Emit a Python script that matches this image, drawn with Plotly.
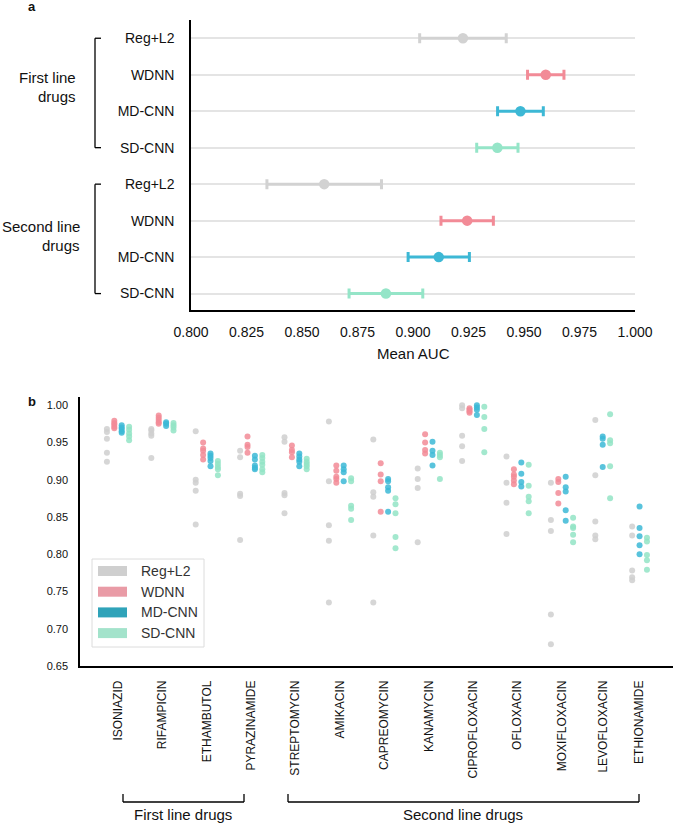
import plotly.graph_objects as go

W, H = 675, 825


def px(x):
    return x / W


def py(y):
    return 1 - y / H


# ---------------- Panel a data ----------------
models = ["Reg+L2", "WDNN", "MD-CNN", "SD-CNN"]
first_line_mean = [0.9225, 0.9598, 0.9484, 0.9380]
first_line_err = [0.0195, 0.0082, 0.0103, 0.0093]
second_line_mean = [0.8600, 0.9244, 0.9116, 0.8878]
second_line_err = [0.0258, 0.0118, 0.0138, 0.0166]

# ---------------- Panel b data ----------------
drugs = ["ISONIAZID", "RIFAMPICIN", "ETHAMBUTOL", "PYRAZINAMIDE", "STREPTOMYCIN",
         "AMIKACIN", "CAPREOMYCIN", "KANAMYCIN", "CIPROFLOXACIN", "OFLOXACIN",
         "MOXIFLOXACIN", "LEVOFLOXACIN", "ETHIONAMIDE"]

reg_l2_auc = [
    [0.968, 0.964, 0.955, 0.936, 0.924],
    [0.968, 0.966, 0.962, 0.959, 0.929],
    [0.965, 0.900, 0.896, 0.885, 0.840],
    [0.939, 0.930, 0.881, 0.878, 0.819],
    [0.957, 0.951, 0.882, 0.879, 0.855],
    [0.978, 0.898, 0.839, 0.818, 0.735],
    [0.954, 0.883, 0.877, 0.825, 0.735],
    [0.915, 0.901, 0.889, 0.816],
    [1.000, 0.996, 0.959, 0.945, 0.925],
    [0.931, 0.896, 0.869, 0.827],
    [0.896, 0.846, 0.831, 0.719, 0.679],
    [0.980, 0.906, 0.844, 0.825, 0.820],
    [0.837, 0.825, 0.778, 0.769, 0.765],
]
wdnn_auc = [
    [0.979, 0.976, 0.974, 0.971, 0.969],
    [0.986, 0.983, 0.980, 0.977, 0.975],
    [0.950, 0.942, 0.939, 0.933, 0.927],
    [0.958, 0.947, 0.944, 0.936],
    [0.946, 0.940, 0.937, 0.930],
    [0.919, 0.912, 0.904, 0.901, 0.896],
    [0.922, 0.907, 0.898, 0.857],
    [0.961, 0.950, 0.940, 0.935],
    [0.996, 0.994, 0.992, 0.990],
    [0.914, 0.907, 0.904, 0.899, 0.894],
    [0.901, 0.897, 0.882, 0.868],
    [],
    [],
]
md_cnn_auc = [
    [0.973, 0.970, 0.968, 0.965, 0.963],
    [0.977, 0.975, 0.972],
    [0.935, 0.932, 0.929, 0.925, 0.918],
    [0.932, 0.927, 0.919, 0.916, 0.914],
    [0.935, 0.931, 0.927, 0.924, 0.918],
    [0.919, 0.914, 0.910, 0.898],
    [0.901, 0.898, 0.890, 0.885, 0.857],
    [0.951, 0.939, 0.933, 0.919],
    [1.000, 0.997, 0.994, 0.987],
    [0.923, 0.908, 0.897, 0.891],
    [0.904, 0.890, 0.884, 0.859, 0.845],
    [0.958, 0.955, 0.947, 0.917],
    [0.864, 0.835, 0.824, 0.812, 0.800],
]
sd_cnn_auc = [
    [0.971, 0.967, 0.962, 0.958, 0.953],
    [0.976, 0.973, 0.970, 0.966],
    [0.925, 0.921, 0.917, 0.914, 0.906],
    [0.933, 0.929, 0.924, 0.920, 0.914, 0.910],
    [0.928, 0.924, 0.921, 0.918, 0.914],
    [0.902, 0.898, 0.865, 0.861, 0.846],
    [0.875, 0.867, 0.855, 0.823, 0.808],
    [0.936, 0.933, 0.930, 0.901],
    [0.998, 0.984, 0.968, 0.937],
    [0.920, 0.892, 0.877, 0.871, 0.855],
    [0.849, 0.837, 0.835, 0.826, 0.816],
    [0.988, 0.953, 0.949, 0.918, 0.875],
    [0.822, 0.817, 0.799, 0.792, 0.779],
]
y_ticks_b = [0.65, 0.70, 0.75, 0.80, 0.85, 0.90, 0.95, 1.00]
x_ticks_a = [0.800, 0.825, 0.850, 0.875, 0.900, 0.925, 0.950, 0.975, 1.000]

# ---------------- styles / layout helpers ----------------
FONT = "Liberation Sans, Arial, Helvetica, sans-serif"
colors_a = ["#d2d2d2", "#f28b97", "#3db8d5", "#95e5c8"]
colors_b = ["#cfcfcf", "#f28b97", "#3cb9d6", "#93e4c6"]
legend_colors = ["#cfcfcf", "#e99ba6", "#2fa3b9", "#a3e3cb"]
dodge = [-0.25, -0.0833, 0.0833, 0.25]
# slot of each drug on the category axis (last group is set slightly closer in the original)
drug_slot = list(range(12)) + [11.83]

fig = go.Figure()

# ---------------- Panel a ----------------
for i, m in enumerate(models):
    fig.add_trace(go.Scatter(
        x=[first_line_mean[i], second_line_mean[i]],
        y=[i, i + 4],
        mode="markers",
        marker=dict(size=10.5, color=colors_a[i]),
        error_x=dict(type="data", array=[first_line_err[i], second_line_err[i]],
                     color=colors_a[i], thickness=3, width=5),
        showlegend=False, xaxis="x", yaxis="y", name=m,
    ))

# ---------------- Panel b ----------------
all_auc = [reg_l2_auc, wdnn_auc, md_cnn_auc, sd_cnn_auc]
tickpos = []
for d in range(len(drugs)):
    present = [k for k in range(4) if len(all_auc[k][d]) > 0]
    offs = [dodge[r] for r in range(len(present))]
    tickpos.append(drug_slot[d] + sum(offs) / len(offs))

for k, m in enumerate(models):
    xs, ys = [], []
    for d in range(len(drugs)):
        vals = all_auc[k][d]
        if not vals:
            continue
        present = [kk for kk in range(4) if len(all_auc[kk][d]) > 0]
        rank = present.index(k)
        xs += [drug_slot[d] + dodge[rank]] * len(vals)
        ys += vals
    fig.add_trace(go.Scatter(
        x=xs, y=ys, mode="markers",
        marker=dict(size=6, color=colors_b[k], opacity=0.85),
        showlegend=False, xaxis="x2", yaxis="y2", name=m,
    ))

shapes = []
annotations = []

# Panel a brackets
for (r0, r1) in [(0, 3), (4, 7)]:
    shapes.append(dict(type="line", xref="paper", yref="y", x0=px(95), x1=px(95), y0=r0, y1=r1,
                       line=dict(color="black", width=1.3)))
    for r in (r0, r1):
        shapes.append(dict(type="line", xref="paper", yref="y", x0=px(95), x1=px(101), y0=r, y1=r,
                           line=dict(color="black", width=1.3)))

for txt, xr, yy in [("First line", 78, 77), ("drugs", 78, 97),
                    ("Second line", 82, 226), ("drugs", 82, 245)]:
    annotations.append(dict(text=txt, x=px(xr), y=py(yy), xref="paper", yref="paper",
                            xanchor="right", yanchor="middle", showarrow=False,
                            font=dict(size=15, color="#111", family=FONT)))

annotations.append(dict(text="Mean AUC", x=px(413), y=py(353), xref="paper", yref="paper",
                        xanchor="center", yanchor="middle", showarrow=False,
                        font=dict(size=15, color="#111", family=FONT)))
annotations.append(dict(text="<b>a</b>", x=px(32), y=py(6), xref="paper", yref="paper",
                        xanchor="center", yanchor="middle", showarrow=False,
                        font=dict(size=13, color="#111", family=FONT)))
annotations.append(dict(text="<b>b</b>", x=px(32), y=py(401), xref="paper", yref="paper",
                        xanchor="center", yanchor="middle", showarrow=False,
                        font=dict(size=13, color="#111", family=FONT)))

# Panel b bottom brackets
for (x0, x1, txt, xc) in [(123, 244, "First line drugs", 183), (288, 639, "Second line drugs", 463)]:
    shapes.append(dict(type="line", xref="paper", yref="paper", x0=px(x0), x1=px(x1),
                       y0=py(802), y1=py(802), line=dict(color="black", width=1.3)))
    for xx in (x0, x1):
        shapes.append(dict(type="line", xref="paper", yref="paper", x0=px(xx), x1=px(xx),
                           y0=py(794), y1=py(802), line=dict(color="black", width=1.3)))
    annotations.append(dict(text=txt, x=px(xc), y=py(814), xref="paper", yref="paper",
                            xanchor="center", yanchor="middle", showarrow=False,
                            font=dict(size=15, color="#111", family=FONT)))

# Panel b legend (manual)
shapes.append(dict(type="rect", xref="paper", yref="paper", x0=px(92), x1=px(204),
                   y0=py(559), y1=py(647), line=dict(color="#dcdcdc", width=1),
                   fillcolor="white", layer="above"))
for i, m in enumerate(models):
    yc = 571 + i * 20.7
    shapes.append(dict(type="rect", xref="paper", yref="paper", x0=px(98), x1=px(127),
                       y0=py(yc - 5), y1=py(yc + 5), line=dict(width=0),
                       fillcolor=legend_colors[i], layer="above"))
    annotations.append(dict(text=m, x=px(139), y=py(yc), xref="paper", yref="paper",
                            xanchor="left", yanchor="middle", showarrow=False,
                            font=dict(size=14, color="#333", family=FONT)))

fig.update_layout(
    width=W, height=H,
    margin=dict(l=0, r=0, t=0, b=0),
    paper_bgcolor="white", plot_bgcolor="white",
    font=dict(family=FONT, color="#111"),
    showlegend=False,
    shapes=shapes, annotations=annotations,
    xaxis=dict(domain=[px(191), px(635)], range=[0.8, 1.0], anchor="y", automargin=False,
               tickvals=x_ticks_a, ticktext=[f"{v:.3f}" for v in x_ticks_a],
               showline=True, linecolor="black", linewidth=1.5, showgrid=False,
               zeroline=False, ticks="", ticklabelstandoff=8,
               tickfont=dict(size=14, color="#111", family=FONT)),
    yaxis=dict(domain=[py(310), py(20)], range=[7.45, -0.5], anchor="x", automargin=False,
               tickvals=list(range(8)), ticktext=models * 2,
               showline=True, linecolor="black", linewidth=1.5,
               showgrid=True, gridcolor="#e4e4e4", gridwidth=1.5,
               zeroline=False, ticks="", ticklabelstandoff=12,
               tickfont=dict(size=14, color="#111", family=FONT)),
    xaxis2=dict(domain=[px(80), px(673)], range=[-0.856, 12.5], anchor="y2", automargin=False,
                tickvals=tickpos, ticktext=drugs, tickangle=-90,
                showline=True, linecolor="black", linewidth=1.5, showgrid=False,
                zeroline=False, ticks="", ticklabelstandoff=8,
                tickfont=dict(size=12, color="#111", family=FONT)),
    yaxis2=dict(domain=[py(666), py(397)], range=[0.6499, 1.011], anchor="x2", automargin=False,
                tickvals=y_ticks_b, ticktext=[f"{v:.2f}" for v in y_ticks_b],
                showline=True, linecolor="black", linewidth=1.5, showgrid=False,
                zeroline=False, ticks="", ticklabelstandoff=8,
                tickfont=dict(size=11, color="#111", family=FONT)),
)

fig.write_html("out.html", config={"displayModeBar": False},
               post_script="document.body.style.margin='0px';")
